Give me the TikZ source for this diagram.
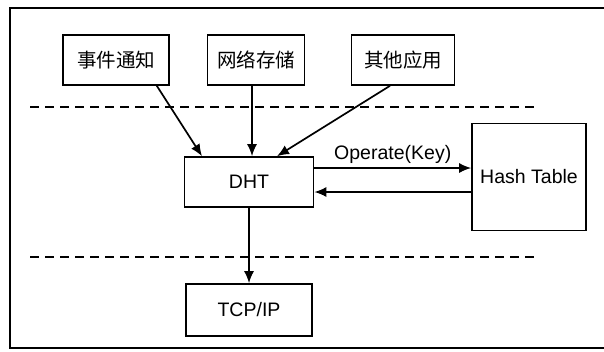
\documentclass[tikz,border=0pt]{standalone}
\usepackage{fontspec}
\setmainfont{Liberation Sans}
\newfontfamily\cjk{Noto Sans CJK SC}
\usetikzlibrary{arrows.meta}
\begin{document}
\begin{tikzpicture}[x=1pt,y=-1pt,
  boxstyle/.style={draw, line width=1.6pt, inner sep=0pt},
  arr/.style={line width=1.7pt, -{Latex[length=12pt,width=10pt]}},
  sep/.style={dashed, dash pattern=on 9pt off 6pt, line width=1.5pt},
  lbl/.style={font=\fontsize{19.5}{22}\selectfont},
  clbl/.style={font=\cjk\fontsize{19.5}{22}\selectfont}]
\useasboundingbox (0,0) rectangle (604,351);
\fill[white] (0,0) rectangle (604,351);
\draw[line width=1.5pt] (604,8) -- (10,8) -- (10,348) -- (604,348);
% boxes
\node[boxstyle, clbl, minimum width=106pt, minimum height=50pt] (a) at (116,60) {事件通知};
\node[boxstyle, clbl, minimum width=97pt, minimum height=50pt] (b) at (256,60) {网络存储};
\node[boxstyle, clbl, minimum width=103pt, minimum height=50pt] (c) at (403,60) {其他应用};
\node[boxstyle, lbl, minimum width=129pt, minimum height=50pt] (dht) at (249,182) {DHT};
\node[boxstyle, lbl, minimum width=114pt, minimum height=107pt] (ht) at (529,177) {Hash Table};
\node[boxstyle, lbl, minimum width=126pt, minimum height=52pt] (tcp) at (249,310) {TCP/IP};
% dashed separators
\coordinate (l1a) at (30,107); \coordinate (l1b) at (535,107);
\coordinate (l2a) at (30,257); \coordinate (l2b) at (535,257);
\draw[sep] (l1a) -- (l1b);
\draw[sep] (l2a) -- (l2b);
% arrows
\draw[arr] (a.south east) ++(-13,0) -- (dht.north west -| 202,0);
\draw[arr] (b.south) ++(-4,0) -- (dht.north -| 252,0);
\draw[arr] (c.south) ++(-13,0) -- (dht.north -| 277,0);
\draw[arr] (dht.south) -- (tcp.north);
\draw[arr] (dht.east |- 0,168) -- node[lbl, above, yshift=0pt] {Operate(Key)} (ht.west |- 0,168);
\draw[arr] (ht.west |- 0,192) -- (dht.east |- 0,192);
\end{tikzpicture}
\end{document}
